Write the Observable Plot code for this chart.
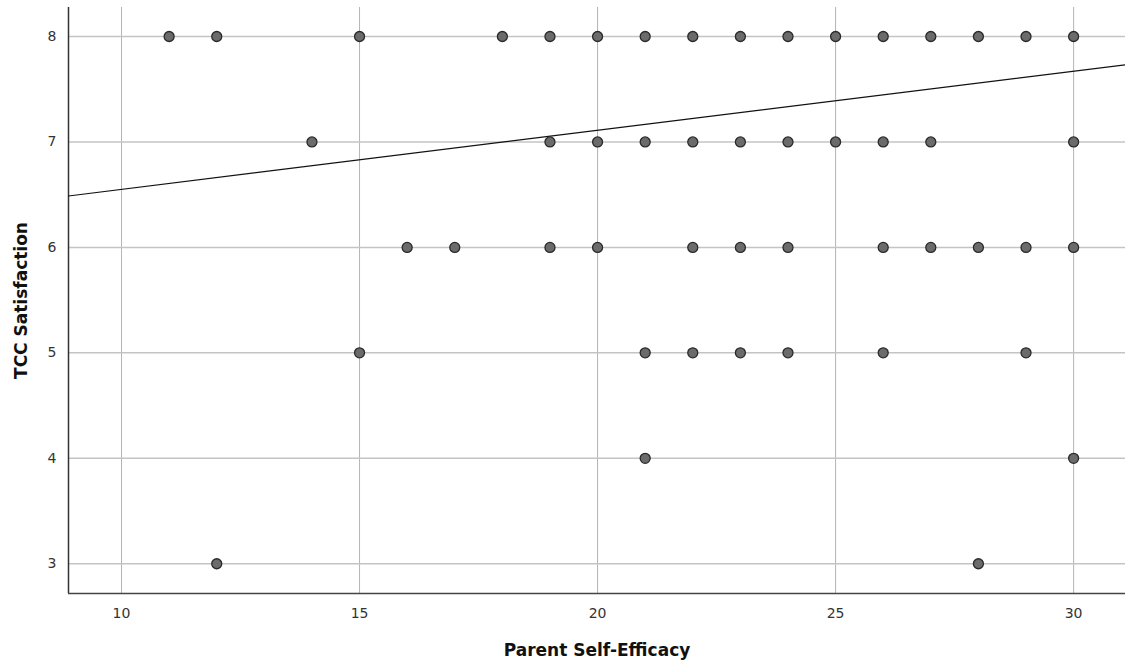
<!DOCTYPE html>
<html>
<head>
<meta charset="utf-8">
<script src="https://cdn.jsdelivr.net/npm/d3@7"></script>
<script src="https://cdn.jsdelivr.net/npm/@observablehq/plot@0.6"></script>
<style>
  html, body { margin: 0; padding: 0; background: #fff; }
  #chart svg { display: block; }
</style>
</head>
<body>
<div id="chart"></div>
<script>
// Data (Parent Self-Efficacy vs TCC Satisfaction)
const xs8 = [11, 12, 15, 18, 19, 20, 21, 22, 23, 24, 25, 26, 27, 28, 29, 30];
const xs7 = [14, 19, 20, 21, 22, 23, 24, 25, 26, 27, 30];
const xs6 = [16, 17, 19, 20, 22, 23, 24, 26, 27, 28, 29, 30];
const xs5 = [15, 21, 22, 23, 24, 26, 29];
const xs4 = [21, 30];
const xs3 = [12, 28];
const satisfactionLevels = [8, 7, 6, 5, 4, 3];
const xTicks = [10, 15, 20, 25, 30];
const yTicks = [3, 4, 5, 6, 7, 8];
// Fit line (as drawn in the reference)
const fitIntercept = 5.99;
const fitSlope = 0.056;

const groups = [xs8, xs7, xs6, xs5, xs4, xs3];
const points = groups.flatMap((g, i) => g.map(x => ({x, y: satisfactionLevels[i]})));

const xDomain = [8.886, 31.09];
const yDomain = [2.718, 8.275];
const fitLine = xDomain.map(x => ({x, y: fitIntercept + fitSlope * x}));

const chart = Plot.plot({
  width: 1125,
  height: 667,
  marginLeft: 68,
  marginRight: 0,
  marginTop: 7,
  marginBottom: 74,
  style: {fontFamily: "DejaVu Sans, sans-serif", fontSize: "14px", color: "#333", background: "#fff"},
  x: {domain: xDomain},
  y: {domain: yDomain},
  marks: [
    Plot.gridX(xTicks, {stroke: "#b4b4b4", strokeOpacity: 1}),
    Plot.gridY(yTicks, {stroke: "#c4c4c4", strokeOpacity: 1, strokeWidth: 1.5}),
    Plot.ruleX([xDomain[0]], {stroke: "#333", strokeWidth: 1.5}),
    Plot.ruleY([yDomain[0]], {stroke: "#444", strokeWidth: 1.5}),
    Plot.axisX(xTicks, {tickSize: 0, tickPadding: 15, fontSize: 14, fill: "#333", tickFormat: d3.format("d"),
      label: "Parent Self-Efficacy", labelAnchor: "center", labelArrow: "none", labelOffset: 62}),
    Plot.axisY(yTicks, {tickSize: 0, tickPadding: 12, fontSize: 14, fill: "#333", tickFormat: d3.format("d"),
      label: "TCC Satisfaction", labelAnchor: "center", labelArrow: "none", labelOffset: 54}),
    Plot.line(fitLine, {x: "x", y: "y", stroke: "#111", strokeWidth: 1.2}),
    Plot.dot(points, {x: "x", y: "y", r: 5, fill: "#6b6b6b", stroke: "#2a2a2a", strokeWidth: 1.3})
  ]
});

// style axis labels bold
chart.querySelectorAll("g[aria-label='x-axis label'] text, g[aria-label='y-axis label'] text").forEach(t => {
  t.setAttribute("font-weight", "bold");
  t.setAttribute("font-size", "17");
  t.setAttribute("fill", "#111");
});
document.getElementById("chart").appendChild(chart);
</script>
</body>
</html>
